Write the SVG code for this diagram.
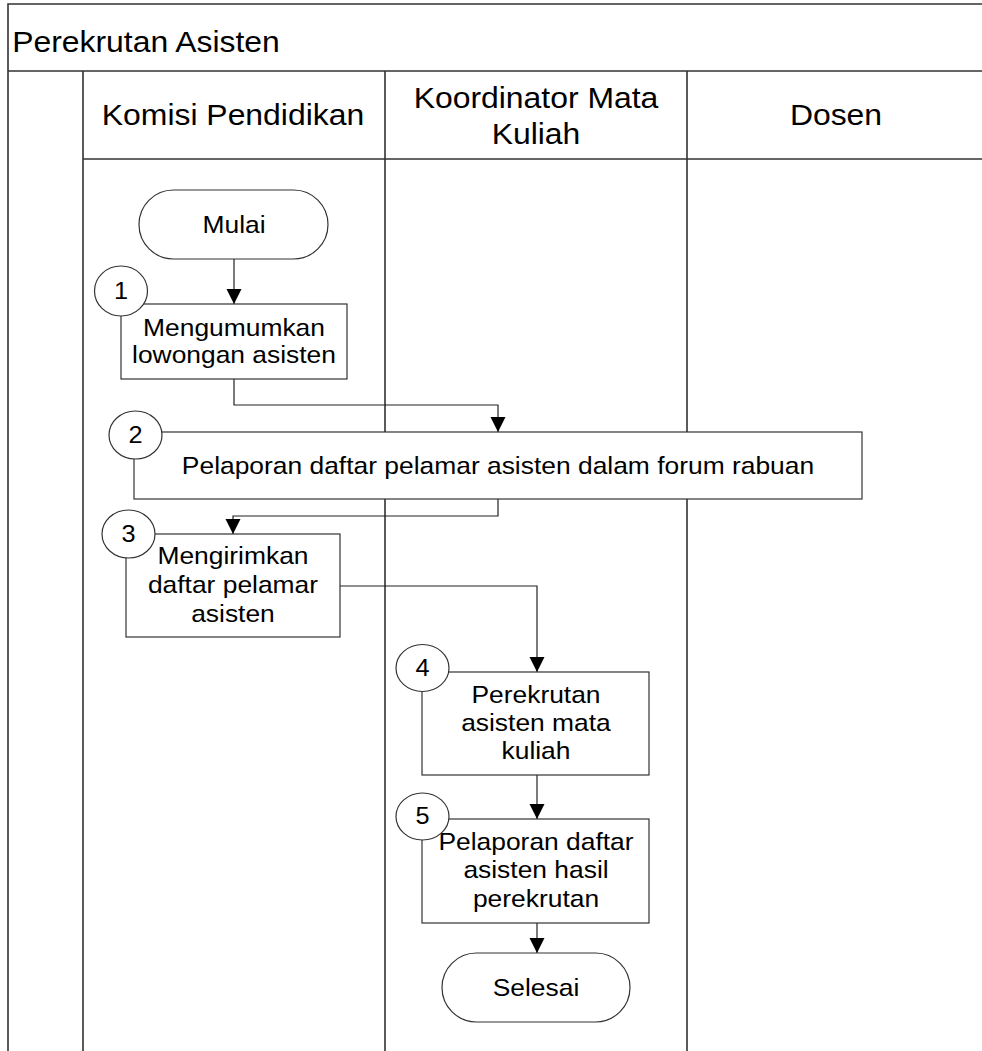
<svg xmlns="http://www.w3.org/2000/svg" width="982" height="1051" viewBox="0 0 982 1051">
<defs>
<style>
text { font-family: "Liberation Sans", Arial, sans-serif; fill: #000; text-anchor: middle; transform-box: fill-box; transform-origin: center; transform: scaleX(1.1); }
.title { font-size: 29px; }
.lane { font-size: 29px; }
.body { font-size: 24px; }
.num { font-size: 23px; }
.frame { fill: none; stroke: #333; stroke-width: 1.6; }
.shape { fill: #fff; stroke: #333; stroke-width: 1.2; }
.conn { fill: none; stroke: #222; stroke-width: 1.2; marker-end: url(#arr); }
.link { fill: none; stroke: #222; stroke-width: 1.2; }
</style>
<marker id="arr" markerUnits="userSpaceOnUse" markerWidth="16" markerHeight="16" viewBox="0 0 16 16" refX="15" refY="8" orient="auto">
<path d="M0,0.5 L15,8 L0,15.5 Z" fill="#000"/>
</marker>
</defs>
<rect x="0" y="0" width="982" height="1051" fill="#fff"/>
<g id="swimlanes">
<path class="frame" d="M982 4 H8 V1051 M8 71 H982 M83 159 H982 M83 71 V1051 M385 71 V1051 M687 71 V1051"/>
<text class="title" x="146" y="52">Perekrutan Asisten</text>
<text class="lane" x="233" y="125">Komisi Pendidikan</text>
<text class="lane" x="536" y="108">Koordinator Mata</text>
<text class="lane" x="536" y="144">Kuliah</text>
<text class="lane" x="836" y="125">Dosen</text>
</g>
<g id="connectors">
<path class="conn" d="M234 259 V304"/>
<path class="conn" d="M234 379 V405 H498 V432"/>
<path class="conn" d="M498 499 V516 H233 V534"/>
<path class="conn" d="M340 586 H537 V672"/>
<path class="conn" d="M537 775 V819"/>
<path class="conn" d="M537 923 V953"/>
</g>
<g id="mulai">
<rect class="shape" x="139" y="190" width="189" height="69" rx="34.5" ry="34.5"/>
<text class="body" x="234" y="233">Mulai</text>
</g>
<g id="step1">
<rect class="shape" x="121" y="304" width="226" height="75"/>
<text class="body" x="234" y="336">Mengumumkan</text>
<text class="body" x="234" y="363">lowongan asisten</text>
<ellipse class="shape" cx="121" cy="291" rx="26.5" ry="25"/>
<text class="num" x="121" y="299">1</text>
</g>
<g id="step2">
<rect class="shape" x="134" y="432" width="728" height="67"/>
<text class="body" x="498" y="474">Pelaporan daftar pelamar asisten dalam forum rabuan</text>
<ellipse class="shape" cx="135.5" cy="435" rx="26.5" ry="24"/>
<text class="num" x="135.5" y="443">2</text>
</g>
<g id="step3">
<rect class="shape" x="126" y="534" width="214" height="103"/>
<text class="body" x="233" y="564">Mengirimkan</text>
<text class="body" x="233" y="593">daftar pelamar</text>
<text class="body" x="233" y="622">asisten</text>
<ellipse class="shape" cx="128.5" cy="534" rx="26.5" ry="24"/>
<text class="num" x="128.5" y="542">3</text>
</g>
<g id="step4">
<rect class="shape" x="422" y="672" width="227" height="103"/>
<text class="body" x="536" y="703">Perekrutan</text>
<text class="body" x="536" y="731">asisten mata</text>
<text class="body" x="536" y="759">kuliah</text>
<ellipse class="shape" cx="422.5" cy="668" rx="26.5" ry="23.5"/>
<text class="num" x="422.5" y="676">4</text>
</g>
<g id="step5">
<rect class="shape" x="422" y="819" width="227" height="104"/>
<text class="body" x="536" y="850">Pelaporan daftar</text>
<text class="body" x="536" y="878">asisten hasil</text>
<text class="body" x="536" y="907">perekrutan</text>
<ellipse class="shape" cx="422.5" cy="816.5" rx="26.5" ry="23.5"/>
<text class="num" x="422.5" y="824">5</text>
</g>
<g id="selesai">
<rect class="shape" x="442" y="953" width="188" height="69" rx="34.5" ry="34.5"/>
<text class="body" x="536" y="996">Selesai</text>
</g>
</svg>
